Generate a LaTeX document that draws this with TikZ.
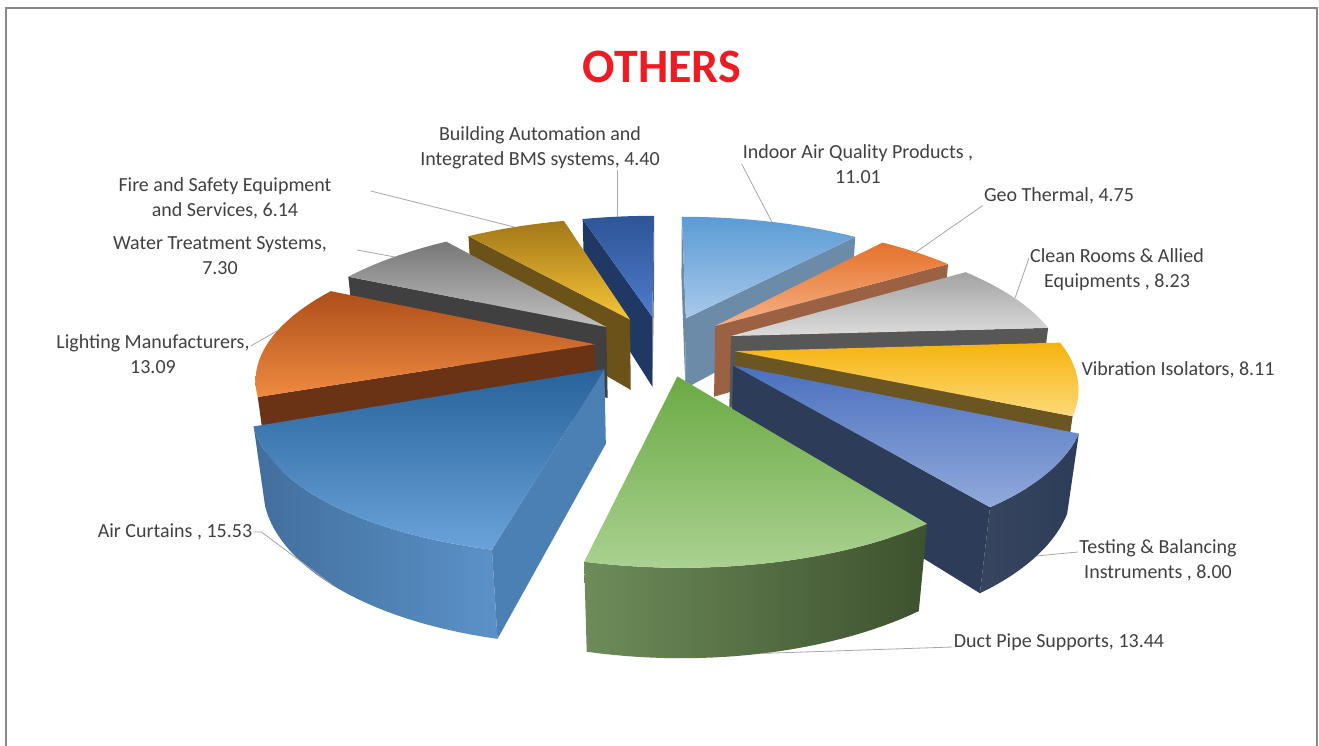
\documentclass[tikz,border=0pt]{standalone}
\usepackage{fontspec}
\setmainfont{Carlito}
\usetikzlibrary{positioning, calc}

\definecolor{titlered}{HTML}{ED1C24}
\definecolor{textgrey}{HTML}{404040}
\definecolor{leadergrey}{HTML}{A6A6A6}
\definecolor{framegrey}{HTML}{898989}
\definecolor{bldgA}{HTML}{2E5597}\definecolor{bldgB}{HTML}{4F7BCB}\definecolor{bldgS}{HTML}{1F3864}
\definecolor{indoorA}{HTML}{5B9BD5}\definecolor{indoorB}{HTML}{A9C9EA}\definecolor{indoorS}{HTML}{6C8BA8}
\definecolor{fireA}{HTML}{A27718}\definecolor{fireB}{HTML}{F7C536}\definecolor{fireS}{HTML}{6B5219}
\definecolor{geoA}{HTML}{E5712A}\definecolor{geoB}{HTML}{F6B287}\definecolor{geoS}{HTML}{9A6242}
\definecolor{waterA}{HTML}{777777}\definecolor{waterB}{HTML}{C0C0C0}\definecolor{waterS}{HTML}{404040}
\definecolor{cleanA}{HTML}{A3A3A3}\definecolor{cleanB}{HTML}{DCDCDC}\definecolor{cleanS}{HTML}{575757}
\definecolor{lightA}{HTML}{AE4F1A}\definecolor{lightB}{HTML}{EF8A40}\definecolor{lightS}{HTML}{6A3315}
\definecolor{vibA}{HTML}{F5B40F}\definecolor{vibB}{HTML}{FDD978}\definecolor{vibS}{HTML}{6B5522}
\definecolor{testA}{HTML}{4A70BE}\definecolor{testB}{HTML}{92AADB}\definecolor{testS}{HTML}{2D3C58}\definecolor{testW}{HTML}{37455F}
\definecolor{airA}{HTML}{28629C}\definecolor{airB}{HTML}{6AA3D9}\definecolor{airS}{HTML}{4B80B5}
\definecolor{airWA}{HTML}{426E9C}\definecolor{airWB}{HTML}{5A92C8}
\definecolor{ductA}{HTML}{6AAA44}\definecolor{ductB}{HTML}{AAD190}
\definecolor{ductWA}{HTML}{6E8C5A}\definecolor{ductWB}{HTML}{3D512E}

% camera and pie constants
\def\pD{3.4}\def\pS{0.44}\def\pC{0.898}\def\pF{1411}\def\pFx{1360}
\def\pR{0.8}\def\pH{0.19}\def\pE{0.18}
\def\pcx{662}\def\pcy{328}

% one exploded slice: [extra x shift], start angle, end angle (clockwise)
\newcommand{\setslice}[3][0]{%
  \pgfmathsetmacro\aA{#2}\pgfmathsetmacro\aB{#3}%
  \pgfmathsetmacro\ox{\pE*cos((#2+#3)/2)+#1}%
  \pgfmathsetmacro\oy{\pE*sin((#2+#3)/2)}%
  \coordinate (tA) at ({prx(\ox,\oy,\pH)},{pry(\ox,\oy,\pH)});
  \coordinate (bA) at ({prx(\ox,\oy,0)},{pry(\ox,\oy,0)});
  \coordinate (t1) at ({prx(\ox+\pR*cos(\aA),\oy+\pR*sin(\aA),\pH)},{pry(\ox+\pR*cos(\aA),\oy+\pR*sin(\aA),\pH)});
  \coordinate (b1) at ({prx(\ox+\pR*cos(\aA),\oy+\pR*sin(\aA),0)},{pry(\ox+\pR*cos(\aA),\oy+\pR*sin(\aA),0)});
  \coordinate (t2) at ({prx(\ox+\pR*cos(\aB),\oy+\pR*sin(\aB),\pH)},{pry(\ox+\pR*cos(\aB),\oy+\pR*sin(\aB),\pH)});
  \coordinate (b2) at ({prx(\ox+\pR*cos(\aB),\oy+\pR*sin(\aB),0)},{pry(\ox+\pR*cos(\aB),\oy+\pR*sin(\aB),0)});
}
\newcommand{\tipat}[3]{%
  \coordinate (#1) at ({prx(\ox+\pR*cos(#2),\oy+\pR*sin(#2),#3)},{pry(\ox+\pR*cos(#2),\oy+\pR*sin(#2),#3)});}
\newcommand{\firstface}[1]{\fill[#1] (tA) -- (t1) -- (b1) -- (bA) -- cycle;}
\newcommand{\lastface}[1]{\fill[#1] (tA) -- (t2) -- (b2) -- (bA) -- cycle;}
\newcommand{\topface}[1]{%
  \path[#1] (tA) -- plot[domain=\aA:\aB, samples=40, variable=\t]
    ({prx(\ox+\pR*cos(\t),\oy+\pR*sin(\t),\pH)},{pry(\ox+\pR*cos(\t),\oy+\pR*sin(\t),\pH)}) -- cycle;}
\newcommand{\wallface}[3]{%
  \path[#1] plot[domain=#2:#3, samples=30, variable=\t]
    ({prx(\ox+\pR*cos(\t),\oy+\pR*sin(\t),\pH)},{pry(\ox+\pR*cos(\t),\oy+\pR*sin(\t),\pH)})
    -- plot[domain=#3:#2, samples=30, variable=\t]
    ({prx(\ox+\pR*cos(\t),\oy+\pR*sin(\t),0)},{pry(\ox+\pR*cos(\t),\oy+\pR*sin(\t),0)}) -- cycle;}

\begin{document}
\begin{tikzpicture}[
    x=1pt, y=1pt,
    declare function={
        pdep(\X,\Y,\Z)=\pD+\Y*\pC-\Z*\pS;
        prx(\X,\Y,\Z)=\pcx+\pFx*\X/pdep(\X,\Y,\Z);
        pry(\X,\Y,\Z)=\pcy+\pF*(\Y*\pS+\Z*\pC)/pdep(\X,\Y,\Z);
    },
    lbl/.style={font=\fontsize{20}{25}\selectfont, text=textgrey, align=center, inner sep=1pt},
    leader/.style={draw=leadergrey, line width=0.8pt},
    frame/.style={draw=framegrey, line width=1.5pt}
]
\useasboundingbox (0,0) rectangle (1319,746);
\draw[frame] (6,0) -- (6,738) -- (1317,738) -- (1317,0);

% Title
\node[font=\fontsize{48}{58}\selectfont\bfseries, text=titlered] (title) at (662,679) {OTHERS};

%%%%%%%%%%%%%%%%%%%%%
% Slices, back to front
%%%%%%%%%%%%%%%%%%%%%
% Building Automation
\setslice{-254.16}{-270}
\firstface{bldgS}
\lastface{bldgS!80!white}
\topface{top color=bldgA, bottom color=bldgB}
\tipat{bldgTip}{-262}{\pH}

% Indoor Air Quality
\setslice{90}{50.36}
\firstface{indoorS}
\lastface{indoorS}
\topface{top color=indoorA, bottom color=indoorB}
\tipat{indoorTip}{70}{\pH}

% Fire and Safety
\setslice{-232.06}{-254.16}
\firstface{fireS}
\topface{top color=fireA, bottom color=fireB}
\tipat{fireTip}{-243}{\pH}

% Geo Thermal
\setslice{50.36}{33.26}
\lastface{geoS}
\topface{top color=geoA, bottom color=geoB}
\tipat{geoTip}{42}{\pH}

% Water Treatment
\setslice{-205.78}{-232.06}
\firstface{waterS}
\topface{top color=waterA, bottom color=waterB}
\tipat{waterTip}{-219}{\pH}

% Clean Rooms
\setslice{33.26}{3.64}
\lastface{cleanS}
\topface{top color=cleanA, bottom color=cleanB}
\tipat{cleanTip}{18}{\pH}

% Lighting Manufacturers
\setslice[0.015]{-158.65}{-205.78}
\firstface{lightS}
\topface{top color=lightA, bottom color=lightB}
\tipat{lightTip}{-186}{\pH}

% Vibration Isolators
\setslice{3.64}{-25.56}
\lastface{vibS}
\topface{top color=vibA, bottom color=vibB}

% Testing & Balancing
\setslice[0.03]{-25.56}{-54.36}
\wallface{left color=testW, right color=testS}{-25.56}{-54.36}
\lastface{testS}
\topface{top color=testA, bottom color=testB}
\tipat{testTip}{-40}{0}

% Air Curtains
\setslice[-0.018]{-102.74}{-158.65}
\wallface{left color=airWA, right color=airWB}{-102.74}{-158.65}
\firstface{airS}
\topface{top color=airA, bottom color=airB}
\tipat{airTip}{-131}{0}

% Duct Pipe Supports
\setslice{-54.36}{-102.74}
\wallface{left color=ductWA, right color=ductWB}{-54.36}{-102.74}
\topface{top color=ductA, bottom color=ductB}
\tipat{ductTip}{-79}{0}

%%%%%%%%%%%%%%%%%%%%%
% Labels
%%%%%%%%%%%%%%%%%%%%%
\node[lbl] (bldgLbl) at (540,598) {Building Automation and\\Integrated BMS systems, 4.40};
\node[lbl] (fireLbl) at (225,548) {Fire and Safety Equipment\\and Services, 6.14};
\node[lbl] (waterLbl) at (220,490) {Water Treatment Systems,\\7.30};
\node[lbl] (lightLbl) at (153,392) {Lighting Manufacturers,\\13.09};
\node[lbl] (airLbl) at (175,214) {Air Curtains , 15.53};
\node[lbl] (indoorLbl) at (858,582) {Indoor Air Quality Products ,\\11.01};
\node[lbl] (geoLbl) at (1059,550) {Geo Thermal, 4.75};
\node[lbl] (cleanLbl) at (1117,476) {Clean Rooms \& Allied\\Equipments , 8.23};
\node[lbl] (vibLbl) at (1178,376) {Vibration Isolators, 8.11};
\node[lbl] (testLbl) at (1158,186) {Testing \& Balancing\\Instruments , 8.00};
\node[lbl] (ductLbl) at (1059,104) {Duct Pipe Supports, 13.44};

% Leader lines
\draw[leader] (bldgTip) -- (bldgTip |- bldgLbl.south);
\draw[leader] ([shift={(38,7)}]fireLbl.east) -- (fireTip);
\draw[leader] ([shift={(29,6)}]waterLbl.east) -- (waterTip);
\draw[leader] ([yshift=8]lightLbl.east) -- (lightTip);
\draw[leader] (airLbl.east) -- ++(8,0) -- (airTip);
\draw[leader] (indoorLbl.west) -- (indoorTip);
\draw[leader] (geoLbl.south west) -- (geoTip);
\draw[leader] ([yshift=12]cleanLbl.west) -- (cleanTip);
\draw[leader] ([yshift=8]testLbl.west) -- (testTip);
\draw[leader] ([yshift=-5]ductLbl.west) -- (ductTip);

\end{tikzpicture}
\end{document}
